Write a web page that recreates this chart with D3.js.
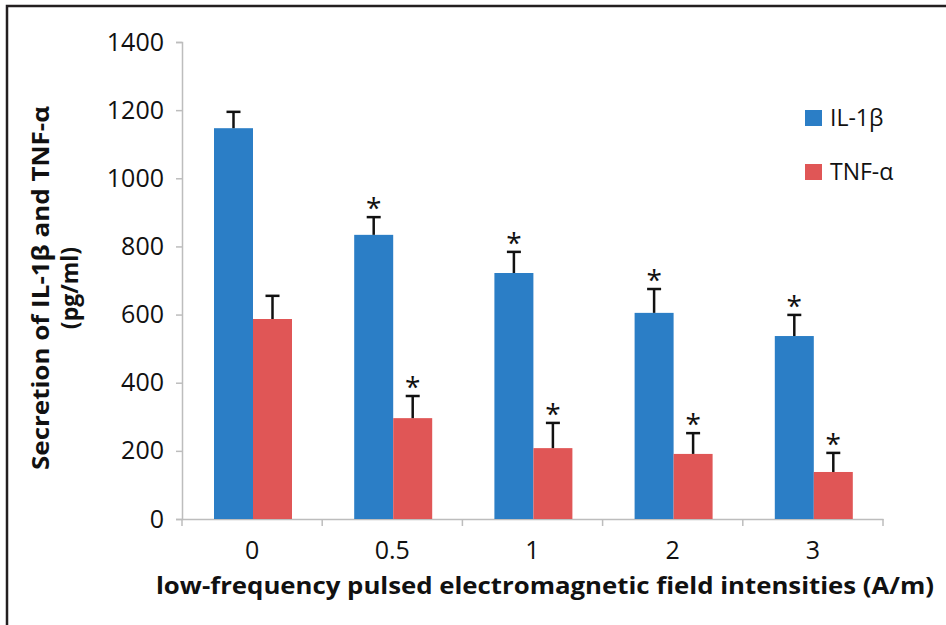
<!DOCTYPE html>
<html>
<head>
<meta charset="utf-8">
<script src="https://cdn.jsdelivr.net/npm/d3@7"></script>
<style>
  body { margin: 0; background: #fff; }
  text { font-family: "Open Sans", "Noto Sans", sans-serif; fill: #111; }
</style>
</head>
<body>
<div id="chart"></div>
<script>
// values
const intensities = ["0", "0.5", "1", "2", "3"];
const seriesNames = ["IL-1β", "TNF-α"];
const il1b = [1147, 834, 722, 605, 537];
const il1bErr = [48, 52, 62, 70, 62];
const tnfa = [587, 296, 208, 191, 138];
const tnfaErr = [68, 65, 74, 61, 56];
const significant = [false, true, true, true, true];
const yTicks = [0, 200, 400, 600, 800, 1000, 1200, 1400];

const width = 946, height = 625;
const colors = { "IL-1β": "#2b7ec6", "TNF-α": "#e05656" };

const svg = d3.select("#chart").append("svg")
  .attr("width", width)
  .attr("height", height);

// frame (top + left only, as in the scan)
svg.append("path")
  .attr("d", `M7,${height} V6 H${width}`)
  .attr("fill", "none")
  .attr("stroke", "#231f20")
  .attr("stroke-width", 2.5);

////////////////////// scales //////////////////////
const x = d3.scaleBand().domain(intensities).range([182, 883]).padding(0);
const xSub = d3.scaleBand().domain(seriesNames).range([32, 110]);
const y = d3.scaleLinear().domain([0, 1400]).range([519, 42]);

const rows = intensities.map((k, i) => ({
  key: k,
  sig: significant[i],
  bars: [
    { name: "IL-1β", value: il1b[i], err: il1bErr[i] },
    { name: "TNF-α", value: tnfa[i], err: tnfaErr[i] }
  ]
}));

////////////////////// axes //////////////////////
const yAxis = svg.append("g")
  .attr("transform", `translate(${x.range()[0]},0)`)
  .call(d3.axisLeft(y).tickValues(yTicks).tickFormat(d3.format("d")).tickSize(6).tickPadding(12));
yAxis.select(".domain").attr("stroke", "#bdbdbd").attr("stroke-width", 1.5);
yAxis.selectAll(".tick line").attr("stroke", "#bdbdbd").attr("stroke-width", 1.5);
yAxis.selectAll(".tick text")
  .style("font-size", "25px")
  .attr("fill", "#111");

const xAxis = svg.append("g")
  .attr("transform", `translate(0,${y(0)})`)
  .call(d3.axisBottom(x).tickSize(0).tickPadding(22));
xAxis.select(".domain").attr("stroke", "#bdbdbd").attr("stroke-width", 1.5);
xAxis.selectAll(".tick text")
  .style("font-size", "25px")
  .attr("fill", "#111");

// category boundary ticks
xAxis.selectAll("line.bound")
  .data(d3.range(intensities.length + 1))
  .enter().append("line")
  .attr("class", "bound")
  .attr("x1", i => x.range()[0] + i * x.step())
  .attr("x2", i => x.range()[0] + i * x.step())
  .attr("y1", 0)
  .attr("y2", 7)
  .attr("stroke", "#bdbdbd")
  .attr("stroke-width", 1.5);

////////////////////// bars //////////////////////
const groups = svg.selectAll("g.group")
  .data(rows)
  .enter().append("g")
  .attr("class", "group")
  .attr("transform", d => `translate(${x(d.key)},0)`);

groups.selectAll("rect")
  .data(d => d.bars)
  .enter().append("rect")
  .attr("x", d => xSub(d.name))
  .attr("width", xSub.bandwidth())
  .attr("y", d => y(d.value))
  .attr("height", d => y(0) - y(d.value))
  .attr("fill", d => colors[d.name]);

// error bars (upper only)
const errs = groups.selectAll("g.err")
  .data(d => d.bars.map(b => Object.assign({ sig: d.sig }, b)))
  .enter().append("g")
  .attr("class", "err")
  .attr("transform", d => `translate(${xSub(d.name) + xSub.bandwidth() / 2},0)`);

errs.append("line")
  .attr("y1", d => y(d.value))
  .attr("y2", d => y(d.value + d.err))
  .attr("stroke", "#111")
  .attr("stroke-width", 2.5);

errs.append("line")
  .attr("x1", -7).attr("x2", 7)
  .attr("y1", d => y(d.value + d.err))
  .attr("y2", d => y(d.value + d.err))
  .attr("stroke", "#111")
  .attr("stroke-width", 2.5);

// significance stars
errs.filter(d => d.sig).append("text")
  .attr("y", d => y(d.value + d.err) + 1)
  .attr("text-anchor", "middle")
  .style("font-size", "28px")
  .text("*");

////////////////////// titles //////////////////////
svg.append("text")
  .attr("x", 545)
  .attr("y", 594)
  .attr("text-anchor", "middle")
  .attr("textLength", 778)
  .attr("lengthAdjust", "spacingAndGlyphs")
  .style("font-size", "24px")
  .style("font-weight", "bold")
  .text("low-frequency pulsed electromagnetic field intensities  (A/m)");

const yTitle = svg.append("g")
  .attr("transform", "translate(0,288) rotate(-90)");
yTitle.append("text")
  .attr("x", 0).attr("y", 49)
  .attr("text-anchor", "middle")
  .attr("textLength", 364)
  .attr("lengthAdjust", "spacingAndGlyphs")
  .style("font-size", "23px")
  .style("font-weight", "bold")
  .text("Secretion of IL-1β and TNF-α");
yTitle.append("text")
  .attr("x", 0).attr("y", 78)
  .attr("text-anchor", "middle")
  .style("font-size", "23px")
  .style("font-weight", "bold")
  .text("(pg/ml)");

////////////////////// legend //////////////////////
const legend = svg.selectAll("g.legend")
  .data(seriesNames)
  .enter().append("g")
  .attr("class", "legend")
  .attr("transform", (d, i) => `translate(805,${110 + i * 54})`);

legend.append("rect")
  .attr("width", 17).attr("height", 16)
  .attr("fill", d => colors[d]);

legend.append("text")
  .attr("x", 25).attr("y", 16)
  .style("font-size", "23px")
  .text(d => d);
</script>
</body>
</html>
